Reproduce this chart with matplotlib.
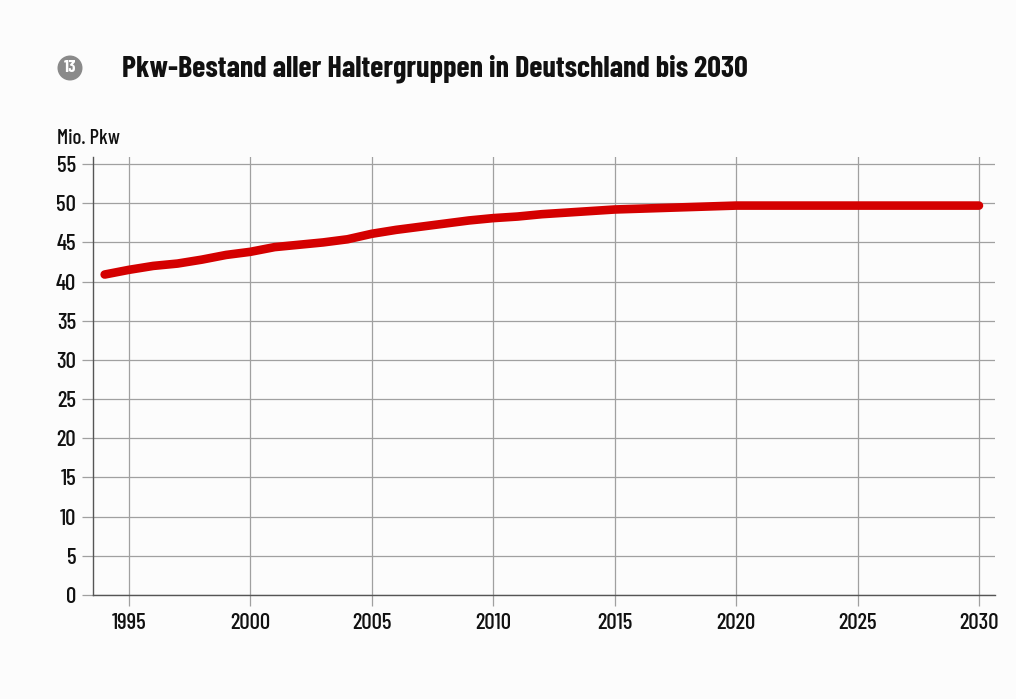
import matplotlib
matplotlib.use("Agg")
import matplotlib.pyplot as plt
from matplotlib.patches import Circle

plt.rcParams['font.family'] = ['Barlow Condensed', 'DejaVu Sans']

# Passenger car stock (million cars), all owner groups
years = [1994, 1995, 1996, 1997, 1998, 1999, 2000, 2001, 2002, 2003, 2004,
         2005, 2006, 2007, 2008, 2009, 2010, 2011, 2012, 2013, 2014, 2015,
         2016, 2017, 2018, 2019, 2020, 2025, 2030]
stock = [40.9, 41.5, 42.0, 42.3, 42.8, 43.4, 43.8, 44.4, 44.7, 45.0, 45.4,
         46.1, 46.6, 47.0, 47.4, 47.8, 48.1, 48.3, 48.6, 48.8, 49.0, 49.2,
         49.3, 49.4, 49.5, 49.6, 49.7, 49.7, 49.7]
x_ticks = [1995, 2000, 2005, 2010, 2015, 2020, 2025, 2030]
y_ticks = list(range(0, 56, 5))

title = "Pkw-Bestand aller Haltergruppen in Deutschland bis 2030"
y_label = "Mio. Pkw"
badge = "13"

W, H = 1016, 699
fig = plt.figure(figsize=(W / 100, H / 100), dpi=100, facecolor="#fcfcfc")
ax = fig.add_axes([93 / W, 1 - 595 / H, (995 - 93) / W, (595 - 157) / H])
ax.set_facecolor("#fcfcfc")

ax.plot(years, stock, color="#d40000", lw=6.2, solid_capstyle="round",
        solid_joinstyle="round", zorder=3)

ax.set_xlim(1993.52, 2030.66)
ax.set_ylim(0, 55.9)
ax.set_xticks(x_ticks)
ax.set_yticks(y_ticks)
ax.grid(True, color="#a0a0a0", lw=0.9)
ax.set_axisbelow(True)
for s in ("top", "right"):
    ax.spines[s].set_visible(False)
for s in ("left", "bottom"):
    ax.spines[s].set_color("#555555")
    ax.spines[s].set_linewidth(1.0)
ax.tick_params(axis="both", direction="out", length=8, width=0.9,
               color="#a0a0a0", labelsize=16.5, labelcolor="#111111")
for lbl in ax.get_xticklabels() + ax.get_yticklabels():
    lbl.set_fontweight(500)
ax.tick_params(axis="y", pad=4)
ax.tick_params(axis="x", pad=5)

fig.text(57 / W, 1 - 138 / H, y_label, fontsize=15, fontweight=500,
         color="#111111", ha="left", va="center")
fig.text(122 / W, 1 - 69 / H, title, fontsize=21.7, fontweight="bold",
         color="#111111", ha="left", va="center")

# numbered badge, drawn in pixel coordinates so it stays round
circ = Circle((70, H - 68), 12.5, transform=None,
              facecolor="#8a8a8a", edgecolor="none")
fig.add_artist(circ)
fig.text(70 / W, 1 - 68 / H, badge, fontsize=12.5, fontweight="bold",
         color="white", ha="center", va="center")

fig.savefig("out.png", dpi=100, facecolor=fig.get_facecolor())
